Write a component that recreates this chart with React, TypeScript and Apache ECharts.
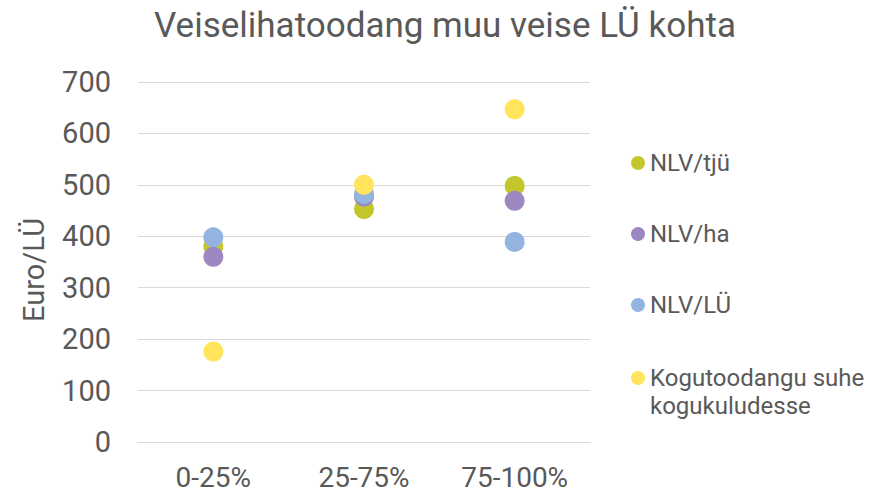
import React, { useEffect, useRef } from "react";
import * as echarts from "echarts";

const categories = ["0-25%", "25-75%", "75-100%"];
const seriesNames = ["NLV/tjü", "NLV/ha", "NLV/LÜ", "Kogutoodangu suhe kogukuludesse"];
const nlvTju = [380, 453, 498];
const nlvHa = [360, 477, 469];
const nlvLu = [398, 482, 389];
const koguSuhe = [176, 500, 647];
const colors = ["#C3C72C", "#9D87C1", "#93B3E0", "#FFE45C"];
const yTicks = { min: 0, max: 700, interval: 100 };

const FONT = "Roboto";
const TXT = "#595959";

export default function App() {
  const ref = useRef<HTMLDivElement>(null);
  useEffect(() => {
    if (!ref.current) return;
    const chart = echarts.init(ref.current, undefined, { renderer: "svg" });
    const values = [nlvTju, nlvHa, nlvLu, koguSuhe];
    chart.setOption({
      animation: false,
      textStyle: { fontFamily: FONT, color: TXT },
      title: {
        text: "Veiselihatoodang muu veise LÜ kohta",
        left: 440,
        top: 3,
        textAlign: "center",
        textStyle: { fontFamily: FONT, fontSize: 35, fontWeight: "normal", color: TXT },
      },
      grid: { left: 138, right: 304, top: 82, bottom: 52 },
      legend: [
        {
          orient: "vertical",
          left: 631,
          top: 149,
          padding: 0,
          itemWidth: 14,
          itemHeight: 14,
          itemGap: 43,
          icon: "circle",
          data: seriesNames.slice(0, 3),
          textStyle: { fontFamily: FONT, fontSize: 24, color: TXT, lineHeight: 28 },
        },
        {
          orient: "vertical",
          left: 631,
          top: 336,
          padding: 0,
          itemWidth: 14,
          itemHeight: 14,
          icon: "circle",
          data: [seriesNames[3]],
          formatter: () => " \nKogutoodangu suhe\nkogukuludesse",
          textStyle: { fontFamily: FONT, fontSize: 24, color: TXT, lineHeight: 28 },
        },
      ],
      xAxis: {
        type: "category",
        data: categories,
        boundaryGap: true,
        axisLine: { lineStyle: { color: "#D9D9D9", width: 1 } },
        axisTick: { show: false },
        axisLabel: { fontFamily: FONT, fontSize: 28, lineHeight: 28, color: TXT, margin: 21 },
      },
      yAxis: {
        type: "value",
        min: yTicks.min,
        max: yTicks.max,
        interval: yTicks.interval,
        name: "Euro/LÜ",
        nameLocation: "middle",
        nameGap: 90,
        nameTextStyle: { fontFamily: FONT, fontSize: 29, color: TXT, padding: [0, 16, 0, 0] },
        axisLine: { show: false },
        axisTick: { show: false },
        axisLabel: { fontFamily: FONT, fontSize: 29, color: TXT, margin: 27 },
        splitLine: { lineStyle: { color: "#D9D9D9", width: 1 } },
      },
      series: seriesNames.map((name, i) => ({
        name,
        type: "scatter",
        symbol: "circle",
        symbolSize: 20,
        itemStyle: { color: colors[i], opacity: 1 },
        data: values[i],
      })),
    });
    return () => chart.dispose();
  }, []);
  return <div ref={ref} style={{ width: 894, height: 494, position: "absolute", left: 0, top: 0 }} />;
}
